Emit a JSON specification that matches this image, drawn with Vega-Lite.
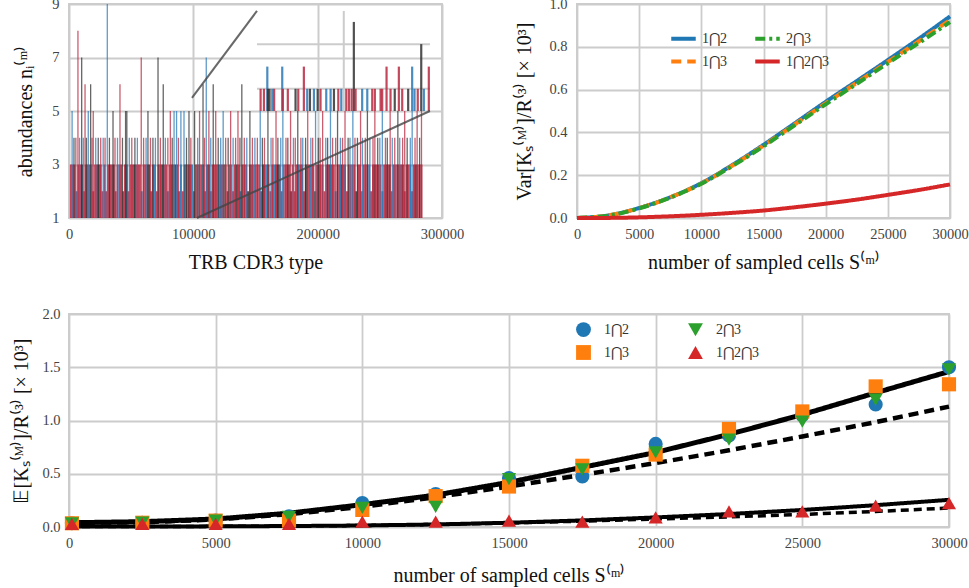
{
"$schema": "https://vega.github.io/schema/vega-lite/v6.json",
"autosize": {"type": "pad"},
"padding": {"left": 10, "top": -5, "right": 0, "bottom": 0},
"background": "white",
"config": {
  "font": "Liberation Serif",
  "view": {"stroke": "#cccccc", "strokeWidth": 2},
  "axis": {"labelFont": "Liberation Serif", "labelFontSize": 14.5, "labelColor": "#444444", "titleFont": "Liberation Serif", "titleFontSize": 20, "titleFontWeight": "normal", "titleColor": "#111111", "gridColor": "#cccccc", "gridWidth": 1.8, "ticks": false, "domain": false, "labelPadding": 9, "labelFlush": false, "labelOverlap": false},
  "legend": {"labelFont": "Liberation Serif", "labelFontSize": 14, "labelColor": "#333333", "title": null}
},
"datasets": {
"base": [
{"x":1500,"n":3,"s":"1"},{"x":3000,"n":3,"s":"1"},{"x":4500,"n":3,"s":"1"},{"x":6000,"n":2,"s":"2"},{"x":7500,"n":3,"s":"1"},{"x":9000,"n":3,"s":"1"},{"x":10500,"n":3,"s":"3"},{"x":12000,"n":2,"s":"1"},{"x":13500,"n":3,"s":"1"},{"x":15000,"n":3,"s":"1"},
{"x":16500,"n":3,"s":"1"},{"x":18000,"n":3,"s":"2"},{"x":19500,"n":2,"s":"1"},{"x":21000,"n":3,"s":"1"},{"x":22500,"n":3,"s":"1"},{"x":24000,"n":3,"s":"3"},{"x":25500,"n":3,"s":"1"},{"x":27000,"n":2,"s":"1"},{"x":28500,"n":3,"s":"2"},{"x":30000,"n":2,"s":"1"},
{"x":31500,"n":3,"s":"1"},{"x":33000,"n":3,"s":"1"},{"x":34500,"n":3,"s":"1"},{"x":36000,"n":3,"s":"3"},{"x":37500,"n":2,"s":"1"},{"x":39000,"n":3,"s":"1"},{"x":40500,"n":3,"s":"2"},{"x":42000,"n":3,"s":"1"},{"x":43500,"n":2,"s":"1"},{"x":45000,"n":3,"s":"1"},
{"x":46500,"n":3,"s":"2"},{"x":48000,"n":2,"s":"1"},{"x":49500,"n":3,"s":"1"},{"x":51000,"n":3,"s":"1"},{"x":52500,"n":3,"s":"3"},{"x":54000,"n":3,"s":"1"},{"x":55500,"n":3,"s":"1"},{"x":57000,"n":3,"s":"1"},{"x":58500,"n":2,"s":"2"},{"x":60000,"n":3,"s":"1"},
{"x":61500,"n":3,"s":"1"},{"x":63000,"n":3,"s":"1"},{"x":64500,"n":3,"s":"3"},{"x":66000,"n":2,"s":"1"},{"x":67500,"n":3,"s":"1"},{"x":69000,"n":3,"s":"2"},{"x":70500,"n":2,"s":"1"},{"x":72000,"n":3,"s":"1"},{"x":73500,"n":3,"s":"1"},{"x":75000,"n":3,"s":"3"},
{"x":76500,"n":3,"s":"1"},{"x":78000,"n":3,"s":"1"},{"x":79500,"n":2,"s":"2"},{"x":81000,"n":3,"s":"1"},{"x":82500,"n":3,"s":"1"},{"x":84000,"n":3,"s":"1"},{"x":85500,"n":3,"s":"3"},{"x":87000,"n":3,"s":"1"},{"x":88500,"n":2,"s":"1"},{"x":90000,"n":3,"s":"2"},
{"x":91500,"n":2,"s":"1"},{"x":93000,"n":3,"s":"3"},{"x":94500,"n":3,"s":"1"},{"x":96000,"n":3,"s":"1"},{"x":97500,"n":3,"s":"1"},{"x":99000,"n":3,"s":"2"},{"x":100500,"n":2,"s":"1"},{"x":102000,"n":3,"s":"1"},{"x":103500,"n":3,"s":"3"},{"x":105000,"n":3,"s":"1"},
{"x":106500,"n":3,"s":"1"},{"x":108000,"n":3,"s":"2"},{"x":109500,"n":2,"s":"1"},{"x":111000,"n":3,"s":"1"},{"x":112500,"n":3,"s":"3"},{"x":114000,"n":2,"s":"1"},{"x":115500,"n":3,"s":"1"},{"x":117000,"n":3,"s":"1"},{"x":118500,"n":3,"s":"1"},{"x":120000,"n":3,"s":"2"},
{"x":121500,"n":3,"s":"1"},{"x":123000,"n":3,"s":"1"},{"x":124500,"n":3,"s":"3"},{"x":126000,"n":3,"s":"1"},{"x":127500,"n":2,"s":"1"},{"x":129000,"n":3,"s":"1"},{"x":130500,"n":3,"s":"2"},{"x":132000,"n":2,"s":"1"},{"x":133500,"n":3,"s":"1"},{"x":135000,"n":3,"s":"3"},
{"x":136500,"n":3,"s":"1"},{"x":138000,"n":2,"s":"2"},{"x":139500,"n":3,"s":"1"},{"x":141000,"n":3,"s":"1"},{"x":142500,"n":3,"s":"1"},{"x":144000,"n":2,"s":"3"},{"x":145500,"n":3,"s":"1"},{"x":147000,"n":3,"s":"1"},{"x":148500,"n":3,"s":"2"},{"x":150000,"n":3,"s":"1"},
{"x":151500,"n":3,"s":"1"},{"x":153000,"n":3,"s":"1"},{"x":154500,"n":2,"s":"1"},{"x":156000,"n":3,"s":"3"},{"x":157500,"n":3,"s":"1"},{"x":159000,"n":3,"s":"2"},{"x":160500,"n":3,"s":"1"},{"x":162000,"n":2,"s":"1"},{"x":163500,"n":3,"s":"1"},{"x":165000,"n":3,"s":"2"},
{"x":166500,"n":3,"s":"1"},{"x":168000,"n":3,"s":"3"},{"x":169500,"n":3,"s":"1"},{"x":171000,"n":2,"s":"1"},{"x":172500,"n":3,"s":"2"},{"x":174000,"n":3,"s":"1"},{"x":175500,"n":3,"s":"1"},{"x":177000,"n":3,"s":"1"},{"x":178500,"n":2,"s":"3"},{"x":180000,"n":3,"s":"1"},
{"x":181500,"n":2,"s":"1"},{"x":183000,"n":3,"s":"1"},{"x":184500,"n":3,"s":"2"},{"x":186000,"n":3,"s":"1"},{"x":187500,"n":3,"s":"1"},{"x":189000,"n":2,"s":"1"},{"x":190500,"n":3,"s":"3"},{"x":192000,"n":3,"s":"1"},{"x":193500,"n":3,"s":"1"},{"x":195000,"n":3,"s":"2"},
{"x":196500,"n":3,"s":"1"},{"x":198000,"n":2,"s":"3"},{"x":199500,"n":3,"s":"1"},{"x":201000,"n":3,"s":"1"},{"x":202500,"n":3,"s":"1"},{"x":204000,"n":3,"s":"2"},{"x":205500,"n":2,"s":"1"},{"x":207000,"n":3,"s":"1"},{"x":208500,"n":3,"s":"1"},{"x":210000,"n":3,"s":"3"},
{"x":211500,"n":3,"s":"1"},{"x":213000,"n":3,"s":"1"},{"x":214500,"n":2,"s":"2"},{"x":216000,"n":3,"s":"1"},{"x":217500,"n":3,"s":"1"},{"x":219000,"n":3,"s":"3"},{"x":220500,"n":3,"s":"1"},{"x":222000,"n":3,"s":"2"},{"x":223500,"n":2,"s":"1"},{"x":225000,"n":3,"s":"1"},
{"x":226500,"n":3,"s":"1"},{"x":228000,"n":3,"s":"1"},{"x":229500,"n":3,"s":"1"},{"x":231000,"n":2,"s":"3"},{"x":232500,"n":3,"s":"1"},{"x":234000,"n":3,"s":"1"},{"x":235500,"n":2,"s":"2"},{"x":237000,"n":3,"s":"1"},{"x":238500,"n":3,"s":"1"},{"x":240000,"n":3,"s":"1"},
{"x":241500,"n":3,"s":"2"},{"x":243000,"n":2,"s":"1"},{"x":244500,"n":3,"s":"1"},{"x":246000,"n":3,"s":"3"},{"x":247500,"n":3,"s":"1"},{"x":249000,"n":3,"s":"1"},{"x":250500,"n":3,"s":"1"},{"x":252000,"n":2,"s":"2"},{"x":253500,"n":3,"s":"1"},{"x":255000,"n":3,"s":"1"},
{"x":256500,"n":3,"s":"1"},{"x":258000,"n":3,"s":"3"},{"x":259500,"n":2,"s":"1"},{"x":261000,"n":3,"s":"1"},{"x":262500,"n":3,"s":"2"},{"x":264000,"n":3,"s":"1"},{"x":265500,"n":3,"s":"1"},{"x":267000,"n":3,"s":"1"},{"x":268500,"n":3,"s":"3"},{"x":270000,"n":2,"s":"1"},
{"x":271500,"n":3,"s":"1"},{"x":273000,"n":3,"s":"1"},{"x":274500,"n":3,"s":"2"},{"x":276000,"n":2,"s":"1"},{"x":277500,"n":3,"s":"1"},{"x":279000,"n":3,"s":"3"},{"x":280500,"n":3,"s":"1"},{"x":282000,"n":3,"s":"1"},{"x":283500,"n":3,"s":"1"}
],
"spikes": [
{"x":2500,"n":5,"s":"2"},{"x":4000,"n":4,"s":"3"},{"x":5500,"n":4,"s":"1"},{"x":7200,"n":8,"s":"1"},{"x":8500,"n":4,"s":"2"},{"x":10200,"n":7,"s":"3"},{"x":11500,"n":4,"s":"2"},{"x":12900,"n":6,"s":"1"},{"x":14000,"n":4,"s":"3"},{"x":15500,"n":5,"s":"2"},
{"x":17400,"n":6,"s":"3"},{"x":18500,"n":4,"s":"1"},{"x":19500,"n":5,"s":"1"},{"x":21500,"n":4,"s":"2"},{"x":23500,"n":4,"s":"3"},{"x":25500,"n":4,"s":"1"},{"x":27500,"n":4,"s":"2"},{"x":29000,"n":4,"s":"1"},{"x":30800,"n":9,"s":"2"},{"x":32500,"n":4,"s":"3"},
{"x":35400,"n":5,"s":"3"},{"x":37000,"n":4,"s":"1"},{"x":39000,"n":4,"s":"2"},{"x":41000,"n":6,"s":"1"},{"x":43000,"n":4,"s":"3"},{"x":45500,"n":5,"s":"3"},{"x":46500,"n":5,"s":"3"},{"x":48500,"n":4,"s":"2"},{"x":50500,"n":4,"s":"1"},{"x":53000,"n":4,"s":"3"},
{"x":55000,"n":4,"s":"2"},{"x":58100,"n":7,"s":"1"},{"x":60000,"n":4,"s":"1"},{"x":62000,"n":4,"s":"2"},{"x":63500,"n":5,"s":"3"},{"x":65500,"n":4,"s":"1"},{"x":67500,"n":4,"s":"3"},{"x":69500,"n":4,"s":"2"},{"x":71600,"n":7,"s":"3"},{"x":73500,"n":4,"s":"1"},
{"x":75800,"n":6,"s":"3"},{"x":77500,"n":4,"s":"2"},{"x":79500,"n":4,"s":"1"},{"x":81500,"n":5,"s":"1"},{"x":83000,"n":4,"s":"3"},{"x":84500,"n":5,"s":"2"},{"x":86500,"n":5,"s":"2"},{"x":88000,"n":4,"s":"1"},{"x":90000,"n":5,"s":"2"},{"x":92500,"n":5,"s":"2"},
{"x":94500,"n":4,"s":"3"},{"x":96500,"n":5,"s":"3"},{"x":98000,"n":4,"s":"1"},{"x":101000,"n":5,"s":"3"},{"x":103500,"n":4,"s":"2"},{"x":105000,"n":5,"s":"1"},{"x":107800,"n":6,"s":"3"},{"x":109000,"n":4,"s":"1"},{"x":110400,"n":7,"s":"2"},{"x":112500,"n":5,"s":"1"},
{"x":114000,"n":4,"s":"2"},{"x":116000,"n":6,"s":"3"},{"x":118000,"n":5,"s":"1"},{"x":120000,"n":4,"s":"3"},{"x":122000,"n":4,"s":"2"},{"x":124000,"n":5,"s":"2"},{"x":126000,"n":4,"s":"1"},{"x":128000,"n":4,"s":"3"},{"x":130000,"n":5,"s":"1"},{"x":132000,"n":4,"s":"2"},
{"x":134000,"n":4,"s":"1"},{"x":135900,"n":5,"s":"1"},{"x":137500,"n":4,"s":"3"},{"x":139000,"n":6,"s":"3"},{"x":141000,"n":4,"s":"1"},{"x":143000,"n":4,"s":"2"},{"x":145500,"n":5,"s":"3"},{"x":147500,"n":4,"s":"1"},{"x":149500,"n":4,"s":"2"},{"x":151500,"n":4,"s":"1"},
{"x":153800,"n":5,"s":"2"},{"x":155500,"n":4,"s":"3"},{"x":157200,"n":4,"s":"1"},{"x":160000,"n":5,"s":"3"},{"x":162500,"n":4,"s":"2"},{"x":164000,"n":4,"s":"1"},{"x":166500,"n":5,"s":"1"},{"x":168000,"n":4,"s":"3"},{"x":170300,"n":4,"s":"2"},{"x":172000,"n":5,"s":"2"},
{"x":174500,"n":4,"s":"1"},{"x":176000,"n":4,"s":"3"},{"x":178200,"n":5,"s":"1"},{"x":180500,"n":4,"s":"2"},{"x":182000,"n":4,"s":"1"},{"x":184000,"n":5,"s":"3"},{"x":186500,"n":4,"s":"1"},{"x":188000,"n":4,"s":"2"},{"x":190300,"n":4,"s":"3"},{"x":192000,"n":5,"s":"1"},
{"x":194500,"n":4,"s":"2"},{"x":196000,"n":4,"s":"1"},{"x":198300,"n":5,"s":"2"},{"x":200500,"n":4,"s":"3"},{"x":202000,"n":4,"s":"1"},{"x":204000,"n":5,"s":"1"},{"x":206500,"n":4,"s":"2"},{"x":208000,"n":4,"s":"3"},{"x":210300,"n":5,"s":"2"},{"x":212000,"n":4,"s":"1"},
{"x":214500,"n":4,"s":"1"},{"x":216000,"n":5,"s":"3"},{"x":218300,"n":4,"s":"2"},{"x":220000,"n":4,"s":"1"},{"x":222000,"n":5,"s":"1"},{"x":224500,"n":4,"s":"3"},{"x":226000,"n":4,"s":"2"},{"x":228300,"n":5,"s":"2"},{"x":230000,"n":4,"s":"1"},{"x":232000,"n":4,"s":"3"},
{"x":234500,"n":5,"s":"1"},{"x":236000,"n":4,"s":"2"},{"x":238300,"n":4,"s":"1"},{"x":240000,"n":5,"s":"3"},{"x":242000,"n":4,"s":"2"},{"x":244500,"n":4,"s":"1"},{"x":246000,"n":5,"s":"1"},{"x":248300,"n":4,"s":"3"},{"x":250000,"n":4,"s":"2"},{"x":252000,"n":5,"s":"2"},
{"x":254500,"n":4,"s":"1"},{"x":256000,"n":4,"s":"3"},{"x":258300,"n":5,"s":"1"},{"x":260000,"n":4,"s":"2"},{"x":262000,"n":4,"s":"1"},{"x":264500,"n":5,"s":"3"},{"x":266000,"n":4,"s":"2"},{"x":268300,"n":4,"s":"1"},{"x":270000,"n":5,"s":"1"},{"x":272000,"n":4,"s":"3"},
{"x":274500,"n":4,"s":"2"},{"x":276000,"n":5,"s":"2"},{"x":278300,"n":4,"s":"1"},{"x":280000,"n":5,"s":"1"},{"x":282000,"n":4,"s":"3"},{"x":283500,"n":5,"s":"1"}
],
"inset": [
{"x":154100,"v":5.83,"s":"1"},{"x":156800,"v":5.83,"s":"1"},{"x":159500,"v":6.66,"s":"2"},{"x":160000,"v":5.83,"s":"3"},{"x":161300,"v":5.83,"s":"3"},{"x":163500,"v":5.83,"s":"2"},{"x":165000,"v":5.83,"s":"1"},{"x":171500,"v":6.66,"s":"2"},{"x":172000,"v":5.83,"s":"1"},{"x":176000,"v":5.83,"s":"1"},
{"x":182200,"v":5.83,"s":"3"},{"x":184400,"v":5.83,"s":"1"},{"x":188900,"v":6.66,"s":"1"},{"x":191600,"v":5.83,"s":"2"},{"x":193800,"v":5.83,"s":"3"},{"x":197000,"v":5.83,"s":"2"},{"x":200000,"v":5.83,"s":"3"},{"x":202300,"v":5.83,"s":"1"},{"x":206900,"v":5.83,"s":"2"},{"x":210400,"v":5.83,"s":"2"},
{"x":213100,"v":5.83,"s":"3"},{"x":216600,"v":5.83,"s":"1"},{"x":219000,"v":5.83,"s":"2"},{"x":223000,"v":5.83,"s":"1"},{"x":225100,"v":5.83,"s":"1"},{"x":227300,"v":5.83,"s":"1"},{"x":229100,"v":8.33,"s":"3"},{"x":230500,"v":5.83,"s":"1"},{"x":235800,"v":5.83,"s":"2"},{"x":239900,"v":5.83,"s":"2"},
{"x":243900,"v":5.83,"s":"1"},{"x":246000,"v":5.83,"s":"1"},{"x":250600,"v":5.83,"s":"1"},{"x":251900,"v":5.83,"s":"1"},{"x":255400,"v":6.66,"s":"1"},{"x":258600,"v":5.83,"s":"1"},{"x":262000,"v":5.83,"s":"3"},{"x":265300,"v":6.66,"s":"1"},{"x":268000,"v":5.83,"s":"1"},{"x":272800,"v":5.83,"s":"3"},
{"x":276000,"v":6.66,"s":"2"},{"x":277900,"v":5.83,"s":"2"},{"x":280500,"v":5.83,"s":"1"},{"x":283300,"v":7.5,"s":"3"},{"x":285400,"v":5.83,"s":"2"},{"x":289400,"v":6.66,"s":"1"}
],
"insetgrid": [
{"x1":151200,"x2":290300,"y1":5.83,"y2":5.83},{"x1":151200,"x2":290300,"y1":7.5,"y2":7.5},{"x1":221000,"x2":221000,"y1":5.0,"y2":8.74}
],
"connect": [
{"x1":98900,"y1":5.49,"x2":151200,"y2":8.74},{"x1":102900,"y1":1,"x2":290300,"y2":5.0}
],
"var": [
{"x":0,"v":0,"k":"1⋂2"},{"x":2500,"v":0.012,"k":"1⋂2"},{"x":5000,"v":0.047,"k":"1⋂2"},{"x":7500,"v":0.097,"k":"1⋂2"},{"x":10000,"v":0.163,"k":"1⋂2"},{"x":12500,"v":0.248,"k":"1⋂2"},{"x":15000,"v":0.342,"k":"1⋂2"},{"x":17500,"v":0.442,"k":"1⋂2"},{"x":20000,"v":0.543,"k":"1⋂2"},{"x":22500,"v":0.64,"k":"1⋂2"},{"x":25000,"v":0.738,"k":"1⋂2"},{"x":27500,"v":0.838,"k":"1⋂2"},{"x":30000,"v":0.942,"k":"1⋂2"},
{"x":0,"v":0,"k":"1⋂3"},{"x":2500,"v":0.012,"k":"1⋂3"},{"x":5000,"v":0.046,"k":"1⋂3"},{"x":7500,"v":0.096,"k":"1⋂3"},{"x":10000,"v":0.161,"k":"1⋂3"},{"x":12500,"v":0.245,"k":"1⋂3"},{"x":15000,"v":0.338,"k":"1⋂3"},{"x":17500,"v":0.437,"k":"1⋂3"},{"x":20000,"v":0.536,"k":"1⋂3"},{"x":22500,"v":0.632,"k":"1⋂3"},{"x":25000,"v":0.729,"k":"1⋂3"},{"x":27500,"v":0.826,"k":"1⋂3"},{"x":30000,"v":0.925,"k":"1⋂3"},
{"x":0,"v":0,"k":"2⋂3"},{"x":2500,"v":0.011,"k":"2⋂3"},{"x":5000,"v":0.045,"k":"2⋂3"},{"x":7500,"v":0.095,"k":"2⋂3"},{"x":10000,"v":0.16,"k":"2⋂3"},{"x":12500,"v":0.243,"k":"2⋂3"},{"x":15000,"v":0.335,"k":"2⋂3"},{"x":17500,"v":0.433,"k":"2⋂3"},{"x":20000,"v":0.531,"k":"2⋂3"},{"x":22500,"v":0.627,"k":"2⋂3"},{"x":25000,"v":0.723,"k":"2⋂3"},{"x":27500,"v":0.818,"k":"2⋂3"},{"x":30000,"v":0.915,"k":"2⋂3"},
{"x":0,"v":0,"k":"1⋂2⋂3"},{"x":2500,"v":0.0005,"k":"1⋂2⋂3"},{"x":5000,"v":0.003,"k":"1⋂2⋂3"},{"x":7500,"v":0.008,"k":"1⋂2⋂3"},{"x":10000,"v":0.015,"k":"1⋂2⋂3"},{"x":12500,"v":0.024,"k":"1⋂2⋂3"},{"x":15000,"v":0.035,"k":"1⋂2⋂3"},{"x":17500,"v":0.05,"k":"1⋂2⋂3"},{"x":20000,"v":0.067,"k":"1⋂2⋂3"},{"x":22500,"v":0.086,"k":"1⋂2⋂3"},{"x":25000,"v":0.108,"k":"1⋂2⋂3"},{"x":27500,"v":0.131,"k":"1⋂2⋂3"},{"x":30000,"v":0.157,"k":"1⋂2⋂3"}
],
"theory": [
{"x":0,"v":0.04,"c":"A"},{"x":2500,"v":0.05,"c":"A"},{"x":5000,"v":0.075,"c":"A"},{"x":7500,"v":0.13,"c":"A"},{"x":10000,"v":0.21,"c":"A"},{"x":12500,"v":0.3,"c":"A"},{"x":15000,"v":0.42,"c":"A"},{"x":17500,"v":0.56,"c":"A"},{"x":20000,"v":0.7,"c":"A"},{"x":22500,"v":0.87,"c":"A"},{"x":25000,"v":1.055,"c":"A"},{"x":27500,"v":1.26,"c":"A"},{"x":30000,"v":1.46,"c":"A"},
{"x":0,"v":0.04,"c":"B"},{"x":2500,"v":0.045,"c":"B"},{"x":5000,"v":0.07,"c":"B"},{"x":7500,"v":0.12,"c":"B"},{"x":10000,"v":0.19,"c":"B"},{"x":12500,"v":0.28,"c":"B"},{"x":15000,"v":0.38,"c":"B"},{"x":17500,"v":0.49,"c":"B"},{"x":20000,"v":0.6,"c":"B"},{"x":22500,"v":0.72,"c":"B"},{"x":25000,"v":0.85,"c":"B"},{"x":27500,"v":0.985,"c":"B"},{"x":30000,"v":1.13,"c":"B"},
{"x":0,"v":0.005,"c":"C"},{"x":2500,"v":0.005,"c":"C"},{"x":5000,"v":0.006,"c":"C"},{"x":7500,"v":0.009,"c":"C"},{"x":10000,"v":0.014,"c":"C"},{"x":12500,"v":0.024,"c":"C"},{"x":15000,"v":0.04,"c":"C"},{"x":17500,"v":0.062,"c":"C"},{"x":20000,"v":0.09,"c":"C"},{"x":22500,"v":0.122,"c":"C"},{"x":25000,"v":0.16,"c":"C"},{"x":27500,"v":0.205,"c":"C"},{"x":30000,"v":0.255,"c":"C"},
{"x":0,"v":0.005,"c":"D"},{"x":2500,"v":0.005,"c":"D"},{"x":5000,"v":0.006,"c":"D"},{"x":7500,"v":0.009,"c":"D"},{"x":10000,"v":0.014,"c":"D"},{"x":12500,"v":0.024,"c":"D"},{"x":15000,"v":0.038,"c":"D"},{"x":17500,"v":0.055,"c":"D"},{"x":20000,"v":0.075,"c":"D"},{"x":22500,"v":0.095,"c":"D"},{"x":25000,"v":0.118,"c":"D"},{"x":27500,"v":0.146,"c":"D"},{"x":30000,"v":0.178,"c":"D"}
],
"sim": [
{"x":100,"v":0.035,"k":"1⋂2"},{"x":2500,"v":0.04,"k":"1⋂2"},{"x":5000,"v":0.06,"k":"1⋂2"},{"x":7500,"v":0.1,"k":"1⋂2"},{"x":10000,"v":0.225,"k":"1⋂2"},{"x":12500,"v":0.31,"k":"1⋂2"},{"x":15000,"v":0.46,"k":"1⋂2"},{"x":17500,"v":0.475,"k":"1⋂2"},{"x":20000,"v":0.78,"k":"1⋂2"},{"x":22500,"v":0.86,"k":"1⋂2"},{"x":25000,"v":1.05,"k":"1⋂2"},{"x":27500,"v":1.15,"k":"1⋂2"},{"x":30000,"v":1.5,"k":"1⋂2"},
{"x":100,"v":0.035,"k":"1⋂3"},{"x":2500,"v":0.04,"k":"1⋂3"},{"x":5000,"v":0.06,"k":"1⋂3"},{"x":7500,"v":0.06,"k":"1⋂3"},{"x":10000,"v":0.16,"k":"1⋂3"},{"x":12500,"v":0.29,"k":"1⋂3"},{"x":15000,"v":0.38,"k":"1⋂3"},{"x":17500,"v":0.575,"k":"1⋂3"},{"x":20000,"v":0.68,"k":"1⋂3"},{"x":22500,"v":0.92,"k":"1⋂3"},{"x":25000,"v":1.085,"k":"1⋂3"},{"x":27500,"v":1.32,"k":"1⋂3"},{"x":30000,"v":1.34,"k":"1⋂3"},
{"x":100,"v":0.035,"k":"2⋂3"},{"x":2500,"v":0.04,"k":"2⋂3"},{"x":5000,"v":0.06,"k":"2⋂3"},{"x":7500,"v":0.095,"k":"2⋂3"},{"x":10000,"v":0.18,"k":"2⋂3"},{"x":12500,"v":0.19,"k":"2⋂3"},{"x":15000,"v":0.45,"k":"2⋂3"},{"x":17500,"v":0.54,"k":"2⋂3"},{"x":20000,"v":0.7,"k":"2⋂3"},{"x":22500,"v":0.82,"k":"2⋂3"},{"x":25000,"v":0.99,"k":"2⋂3"},{"x":27500,"v":1.195,"k":"2⋂3"},{"x":30000,"v":1.48,"k":"2⋂3"},
{"x":100,"v":0.03,"k":"1⋂2⋂3"},{"x":2500,"v":0.03,"k":"1⋂2⋂3"},{"x":5000,"v":0.03,"k":"1⋂2⋂3"},{"x":7500,"v":0.03,"k":"1⋂2⋂3"},{"x":10000,"v":0.05,"k":"1⋂2⋂3"},{"x":12500,"v":0.05,"k":"1⋂2⋂3"},{"x":15000,"v":0.06,"k":"1⋂2⋂3"},{"x":17500,"v":0.05,"k":"1⋂2⋂3"},{"x":20000,"v":0.09,"k":"1⋂2⋂3"},{"x":22500,"v":0.146,"k":"1⋂2⋂3"},{"x":25000,"v":0.146,"k":"1⋂2⋂3"},{"x":27500,"v":0.2,"k":"1⋂2⋂3"},{"x":30000,"v":0.225,"k":"1⋂2⋂3"}
]
},
"spacing": 31,
"resolve": {"scale": {"color": "independent", "strokeDash": "independent", "shape": "independent", "strokeWidth": "independent"}, "legend": {"color": "independent", "strokeDash": "independent", "shape": "independent", "strokeWidth": "independent"}},
"vconcat": [
{
"hconcat": [
{
"width": 373, "height": 214,
"layer": [
{"data": {"name": "base"}, "mark": {"type": "rule", "strokeWidth": 2, "opacity": 0.85},
 "encoding": {
  "x": {"field": "x", "type": "quantitative", "scale": {"domain": [0, 300000], "nice": false}, "axis": {"title": "TRB CDR3 type", "values": [0, 100000, 200000, 300000], "format": "d", "gridWidth": 2, "titlePadding": 12}},
  "y": {"field": "n", "type": "quantitative", "scale": {"domain": [1, 9], "nice": false, "zero": false}, "axis": {"title": "abundances nᵢ⁽ᵐ⁾", "values": [1, 3, 5, 7, 9], "labelPadding": 10, "titlePadding": 16}},
  "y2": {"datum": 1},
  "color": {"field": "s", "type": "nominal", "scale": {"domain": ["1", "2", "3"], "range": ["#b8283f", "#2a78b5", "#333333"]}, "legend": null}
 }},
{"data": {"name": "spikes"}, "mark": {"type": "rule", "strokeWidth": 1.3, "opacity": 0.75},
 "encoding": {"x": {"field": "x", "type": "quantitative"}, "y": {"field": "n", "type": "quantitative"}, "y2": {"datum": 1}, "color": {"field": "s", "type": "nominal", "legend": null}}},
{"mark": {"type": "rect", "fill": "white", "stroke": "#bbbbbb", "strokeWidth": 3},
 "encoding": {"x": {"datum": 151200}, "x2": {"datum": 290300}, "y": {"datum": 5.0}, "y2": {"datum": 8.74}}},
{"data": {"name": "insetgrid"}, "mark": {"type": "rule", "color": "#cccccc", "strokeWidth": 2},
 "encoding": {"x": {"field": "x1", "type": "quantitative"}, "x2": {"field": "x2"}, "y": {"field": "y1", "type": "quantitative"}, "y2": {"field": "y2"}}},
{"data": {"name": "inset"}, "mark": {"type": "rule", "strokeWidth": 2.2, "opacity": 0.85},
 "encoding": {"x": {"field": "x", "type": "quantitative"}, "y": {"field": "v", "type": "quantitative"}, "y2": {"datum": 5.0}, "color": {"field": "s", "type": "nominal", "legend": null}}},
{"mark": {"type": "rect", "fill": "#888888", "fillOpacity": 0.35, "stroke": "#555555", "strokeWidth": 2},
 "encoding": {"x": {"datum": 98900}, "x2": {"datum": 102900}, "y": {"datum": 1}, "y2": {"datum": 5.49}}},
{"data": {"name": "connect"}, "mark": {"type": "rule", "color": "#444444", "strokeWidth": 2, "opacity": 0.8},
 "encoding": {"x": {"field": "x1", "type": "quantitative"}, "x2": {"field": "x2"}, "y": {"field": "y1", "type": "quantitative"}, "y2": {"field": "y2"}}},
{"mark": {"type": "text", "text": "(a)", "fontSize": 19, "align": "left", "baseline": "middle", "font": "Liberation Serif", "color": "#222222"},
 "encoding": {"x": {"datum": 8000}, "y": {"datum": 8.44}}}
]
},
{
"width": 373, "height": 214,
"layer": [
{"data": {"name": "var"}, "mark": {"type": "line", "strokeWidth": 4, "interpolate": "monotone"},
 "encoding": {
  "x": {"field": "x", "type": "quantitative", "scale": {"domain": [0, 30000], "nice": false}, "axis": {"title": "number of sampled cells S⁽ᵐ⁾", "values": [0, 5000, 10000, 15000, 20000, 25000, 30000], "format": "d", "titlePadding": 12}},
  "y": {"field": "v", "type": "quantitative", "scale": {"domain": [0, 1], "nice": false}, "axis": {"title": "Var[Kₛ⁽ᴹ⁾]/R⁽³⁾  [× 10³]", "values": [0, 0.2, 0.4, 0.6, 0.8, 1.0], "format": ".1f", "labelPadding": 10, "titlePadding": 14}},
  "color": {"field": "k", "type": "nominal", "scale": {"domain": ["1⋂2", "1⋂3", "2⋂3", "1⋂2⋂3"], "range": ["#1f77b4", "#ff7f0e", "#2ca02c", "#d62728"]},
   "legend": {"orient": "none", "legendX": 92, "legendY": 20, "columns": 2, "symbolType": "stroke", "symbolStrokeWidth": 4, "symbolSize": 600, "columnPadding": 20, "rowPadding": 0, "labelFontSize": 14}},
  "strokeDash": {"field": "k", "type": "nominal", "scale": {"domain": ["1⋂2", "1⋂3", "2⋂3", "1⋂2⋂3"], "range": [[1, 0], [10, 6], [10, 4, 3, 4], [1, 0]]},
   "legend": {"orient": "none", "legendX": 92, "legendY": 20, "columns": 2, "symbolType": "stroke", "symbolStrokeWidth": 4, "symbolSize": 600, "columnPadding": 20, "rowPadding": 0, "labelFontSize": 14}}
 }},
{"mark": {"type": "text", "text": "(b)", "fontSize": 19, "align": "left", "baseline": "middle", "font": "Liberation Serif", "color": "#222222"},
 "encoding": {"x": {"datum": 800}, "y": {"datum": 0.91}}}
]
}
],
"spacing": 135,
"bounds": "flush",
"resolve": {"scale": {"color": "independent", "strokeDash": "independent"}, "legend": {"color": "independent", "strokeDash": "independent"}}
},
{
"width": 880, "height": 213,
"layer": [
{"data": {"name": "theory"}, "mark": {"type": "line", "color": "black"},
 "encoding": {
  "x": {"field": "x", "type": "quantitative", "scale": {"domain": [0, 30000], "nice": false}, "axis": {"title": "number of sampled cells S⁽ᵐ⁾", "values": [0, 5000, 10000, 15000, 20000, 25000, 30000], "format": "d", "titlePadding": 16}},
  "y": {"field": "v", "type": "quantitative", "scale": {"domain": [0, 2], "nice": false}, "axis": {"title": "𝔼[Kₛ⁽ᴹ⁾]/R⁽³⁾  [× 10³]", "values": [0, 0.5, 1, 1.5, 2], "format": ".1f", "labelPadding": 9, "titlePadding": 10}},
  "detail": {"field": "c", "type": "nominal"},
  "strokeWidth": {"field": "c", "type": "nominal", "scale": {"domain": ["A", "B", "C", "D"], "range": [5, 3.5, 2.5, 2.5]}, "legend": null},
  "strokeDash": {"field": "c", "type": "nominal", "scale": {"domain": ["A", "B", "C", "D"], "range": [[1, 0], [10, 6], [1, 0], [8, 5]]}, "legend": null}
 }},
{"data": {"name": "sim"}, "mark": {"type": "point", "filled": true, "opacity": 1, "size": 200},
 "encoding": {
  "x": {"field": "x", "type": "quantitative"},
  "y": {"field": "v", "type": "quantitative"},
  "color": {"field": "k", "type": "nominal", "scale": {"domain": ["1⋂2", "1⋂3", "2⋂3", "1⋂2⋂3"], "range": ["#1f77b4", "#ff7f0e", "#2ca02c", "#d62728"]},
   "legend": {"orient": "none", "legendX": 506, "legendY": 7, "columns": 2, "symbolSize": 220, "columnPadding": 58, "rowPadding": 7, "labelOffset": 12, "labelFontSize": 14}},
  "shape": {"field": "k", "type": "nominal", "scale": {"domain": ["1⋂2", "1⋂3", "2⋂3", "1⋂2⋂3"], "range": ["circle", "square", "triangle-down", "triangle-up"]},
   "legend": {"orient": "none", "legendX": 506, "legendY": 7, "columns": 2, "symbolSize": 220, "columnPadding": 58, "rowPadding": 7, "labelOffset": 12, "labelFontSize": 14}}
 }},
{"mark": {"type": "text", "text": "(c)", "fontSize": 19, "align": "left", "baseline": "middle", "font": "Liberation Serif", "color": "#222222"},
 "encoding": {"x": {"datum": 270}, "y": {"datum": 1.82}}}
]
}
]
}
